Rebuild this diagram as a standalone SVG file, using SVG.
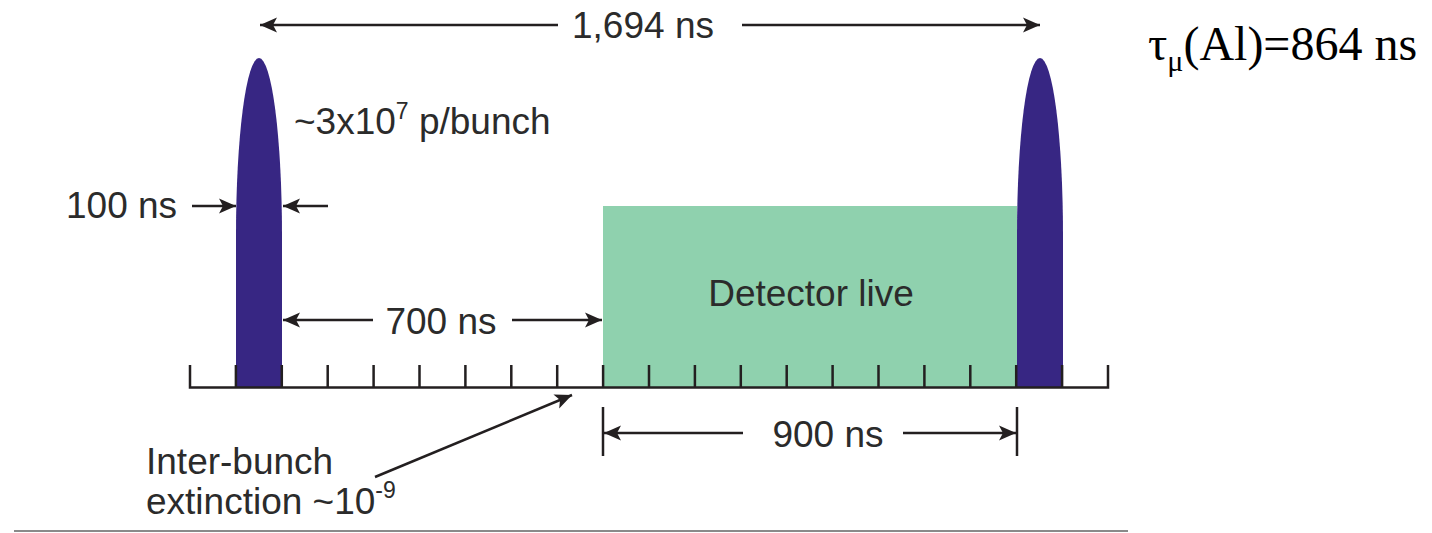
<svg xmlns="http://www.w3.org/2000/svg" width="1432" height="533" viewBox="0 0 1432 533">
<style>
.t{font-family:"Liberation Sans",Arial,sans-serif;font-size:37px;fill:#2b2b2b}
.ln{stroke:#231f20;stroke-width:2.5;fill:none}
.bunch{fill:#372683}
</style>
<defs>
<marker id="ah" viewBox="-18 -9 19 18" refX="0" refY="0" markerWidth="19" markerHeight="18" markerUnits="userSpaceOnUse" orient="auto">
<path d="M0,0 L-17,-7.5 L-13,0 L-17,7.5 Z" fill="#231f20"/>
</marker>
</defs>
<rect width="1432" height="533" fill="#fff"/>
<g id="detector">
<rect x="603" y="206" width="414" height="182" fill="#8fd1ae"/>
<text class="t" x="811" y="306" text-anchor="middle">Detector live</text>
</g>
<g id="bunch-left">
<path class="bunch" d="M236,388 V235 A23,177 0 0 1 282,235 V388 Z"/>
</g>
<g id="bunch-right">
<path class="bunch" d="M1017,388 V235 A23,177 0 0 1 1063,235 V388 Z"/>
</g>
<g id="axis">
<path class="ln" stroke-width="3" d="M190,365 V387.5 H1108 V365 M235.9,365 V387 M281.8,365 V387 M327.7,365 V387 M373.6,365 V387 M419.5,365 V387 M465.4,365 V387 M511.3,365 V387 M557.2,365 V387 M603.1,365 V387 M649,365 V387 M694.9,365 V387 M740.8,365 V387 M786.7,365 V387 M832.6,365 V387 M878.5,365 V387 M924.4,365 V387 M970.3,365 V387 M1016.2,365 V387 M1062.1,365 V387"/>
</g>
<g id="connectors">
<line class="ln" x1="558" y1="25" x2="260" y2="25" marker-end="url(#ah)"/>
<line class="ln" x1="742" y1="25" x2="1040" y2="25" marker-end="url(#ah)"/>
<line class="ln" x1="192" y1="206" x2="236" y2="206" marker-end="url(#ah)"/>
<line class="ln" x1="328" y1="206" x2="283" y2="206" marker-end="url(#ah)"/>
<line class="ln" x1="373" y1="320" x2="283" y2="320" marker-end="url(#ah)"/>
<line class="ln" x1="512" y1="320" x2="602" y2="320" marker-end="url(#ah)"/>
<line class="ln" x1="603" y1="407" x2="603" y2="456"/>
<line class="ln" x1="1017" y1="407" x2="1017" y2="456"/>
<line class="ln" x1="743" y1="433" x2="604" y2="433" marker-end="url(#ah)"/>
<line class="ln" x1="903" y1="433" x2="1016" y2="433" marker-end="url(#ah)"/>
<line class="ln" x1="375" y1="477" x2="572" y2="395" marker-end="url(#ah)"/>
</g>
<g id="labels">
<text class="t" x="643" y="38" text-anchor="middle">1,694 ns</text>
<text class="t" x="294" y="134">~3x10<tspan font-size="23" dy="-15">7</tspan><tspan dy="15"> p/bunch</tspan></text>
<text class="t" x="66" y="218">100 ns</text>
<text class="t" x="441" y="334" text-anchor="middle">700 ns</text>
<text class="t" x="828" y="447" text-anchor="middle">900 ns</text>
<text class="t" x="146" y="474">Inter-bunch</text>
<text class="t" x="146" y="514">extinction ~10<tspan font-size="23" dy="-16">-9</tspan></text>
<text x="1148" y="60" font-family="'Liberation Serif','Times New Roman',serif" font-size="48" fill="#000">τ<tspan font-size="30" dy="11">μ</tspan><tspan dy="-11">(Al)=864 ns</tspan></text>
</g>
<line x1="14" y1="531" x2="1128" y2="531" stroke="#8a8a8a" stroke-width="2"/>
</svg>
